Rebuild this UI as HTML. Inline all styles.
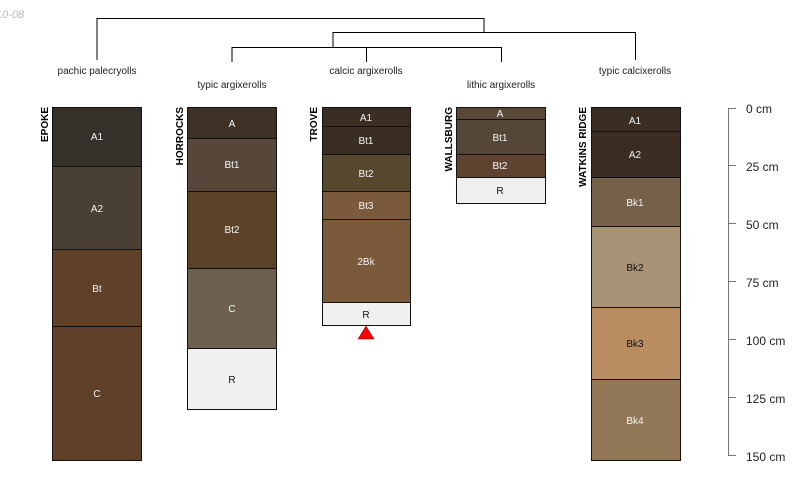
<!DOCTYPE html>
<html><head><meta charset="utf-8"><style>
html,body{margin:0;padding:0;background:#fff;width:800px;height:500px;overflow:hidden}
text{font-family:"Liberation Sans",sans-serif}
</style></head><body>
<svg width="800" height="500" viewBox="0 0 800 500" xmlns="http://www.w3.org/2000/svg">
<text x="-4" y="18" font-size="11" fill="#bbb" font-style="italic">10-08</text>
<g stroke="#000" stroke-width="1" fill="none">
<path d="M97 60V18.5H484V32"/>
<path d="M333 32.5H635.5V60"/>
<path d="M333 32V47"/>
<path d="M232 62V47.5H501.5V62"/>
<path d="M366.5 47V62"/>
</g>
<g font-size="10" fill="#222" text-anchor="middle">
<text x="97" y="74">pachic palecryolls</text>
<text x="232" y="88">typic argixerolls</text>
<text x="366" y="74">calcic argixerolls</text>
<text x="501" y="88">lithic argixerolls</text>
<text x="635" y="74">typic calcixerolls</text>
</g>
<g stroke="#111" stroke-width="1" font-size="10" text-anchor="middle">
<rect x="52.5" y="107.5" width="89" height="59" fill="#35302a"/>
<rect x="52.5" y="166.5" width="89" height="83" fill="#4a3f33"/>
<rect x="52.5" y="249.5" width="89" height="77" fill="#5e4128"/>
<rect x="52.5" y="326.5" width="89" height="134" fill="#5e4128"/>
<rect x="187.5" y="107.5" width="89" height="31" fill="#3d3125"/>
<rect x="187.5" y="138.5" width="89" height="53" fill="#56473a"/>
<rect x="187.5" y="191.5" width="89" height="77" fill="#5c4226"/>
<rect x="187.5" y="268.5" width="89" height="80" fill="#6e604e"/>
<rect x="187.5" y="348.5" width="89" height="61" fill="#f0f0f0"/>
<rect x="322.5" y="107.5" width="88" height="19" fill="#3a2e22"/>
<rect x="322.5" y="126.5" width="88" height="28" fill="#3a2e22"/>
<rect x="322.5" y="154.5" width="88" height="37" fill="#56472f"/>
<rect x="322.5" y="191.5" width="88" height="28" fill="#7a5a3b"/>
<rect x="322.5" y="219.5" width="88" height="83" fill="#7a5a3b"/>
<rect x="322.5" y="302.5" width="88" height="23" fill="#f0f0f0"/>
<rect x="456.5" y="107.5" width="89" height="12" fill="#574838"/>
<rect x="456.5" y="119.5" width="89" height="35" fill="#554738"/>
<rect x="456.5" y="154.5" width="89" height="23" fill="#5e4330"/>
<rect x="456.5" y="177.5" width="89" height="26" fill="#f0f0f0"/>
<rect x="591.5" y="107.5" width="89" height="24" fill="#3a2e22"/>
<rect x="591.5" y="131.5" width="89" height="46" fill="#3a2c20"/>
<rect x="591.5" y="177.5" width="89" height="49" fill="#75604a"/>
<rect x="591.5" y="226.5" width="89" height="81" fill="#a99377"/>
<rect x="591.5" y="307.5" width="89" height="72" fill="#ba8c62"/>
<rect x="591.5" y="379.5" width="89" height="81" fill="#937858"/>
</g>
<polygon points="366,326 358,339 374,339" fill="#f00" stroke="#600" stroke-width="0.5"/>
<g font-size="10" text-anchor="middle" fill="#f4f4f4">
<text x="97" y="140">A1</text><text x="97" y="212">A2</text><text x="97" y="292">Bt</text><text x="97" y="397">C</text>
<text x="232" y="127">A</text><text x="232" y="168">Bt1</text><text x="232" y="233">Bt2</text><text x="232" y="312">C</text>
<text x="232" y="383" fill="#111">R</text>
<text x="366" y="121">A1</text><text x="366" y="144">Bt1</text><text x="366" y="177">Bt2</text><text x="366" y="209">Bt3</text><text x="366" y="265">2Bk</text>
<text x="366" y="318" fill="#111">R</text>
<text x="500" y="117">A</text><text x="500" y="141">Bt1</text><text x="500" y="169">Bt2</text>
<text x="500" y="194" fill="#111">R</text>
<text x="635" y="124">A1</text><text x="635" y="158">A2</text><text x="635" y="206">Bk1</text>
<text x="635" y="271" fill="#111">Bk2</text><text x="635" y="347" fill="#111">Bk3</text><text x="635" y="424">Bk4</text>
</g>
<g font-size="10" font-weight="bold" fill="#000">
<text transform="translate(48,107) rotate(-90)" text-anchor="end">EPOKE</text>
<text transform="translate(183,107) rotate(-90)" text-anchor="end">HORROCKS</text>
<text transform="translate(317,107) rotate(-90)" text-anchor="end">TROVE</text>
<text transform="translate(452,107) rotate(-90)" text-anchor="end">WALLSBURG</text>
<text transform="translate(586,107) rotate(-90)" text-anchor="end">WATKINS RIDGE</text>
</g>
<g stroke="#777" stroke-width="1">
<path d="M728.5 108V455"/>
<path d="M728 108.5H736M728 165.5H736M728 223.5H736M728 281.5H736M728 339.5H736M728 397.5H736M728 455.5H736"/>
</g>
<g font-size="12" fill="#222">
<text x="746" y="113">0 cm</text>
<text x="746" y="171">25 cm</text>
<text x="746" y="229">50 cm</text>
<text x="746" y="287">75 cm</text>
<text x="746" y="345">100 cm</text>
<text x="746" y="403">125 cm</text>
<text x="746" y="461">150 cm</text>
</g>
</svg>
</body></html>
